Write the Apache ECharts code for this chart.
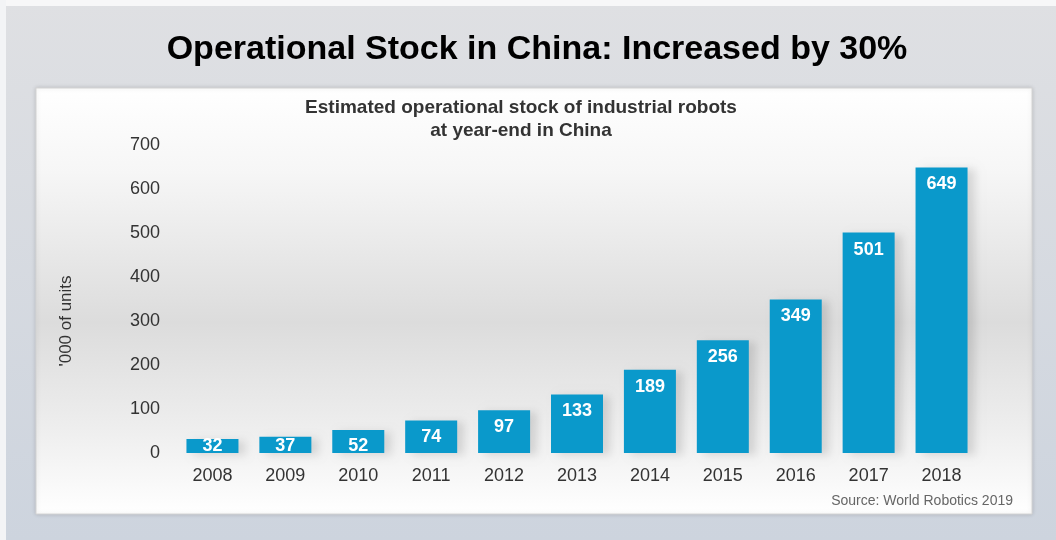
<!DOCTYPE html>
<html style="height: 100%">
<head>
<meta charset="utf-8">
<script src="https://cdn.jsdelivr.net/npm/echarts@6/dist/echarts.min.js"></script>
</head>
<body style="height: 100%; margin: 0">
<div id="container" style="width: 1056px; height: 540px"></div>
<script type="text/javascript">
var years = ['2008', '2009', '2010', '2011', '2012', '2013', '2014', '2015', '2016', '2017', '2018'];
var stock = [32, 37, 52, 74, 97, 133, 189, 256, 349, 501, 649];

var myChart = echarts.init(document.getElementById('container'));

// small bars: value label sits at the bottom of the bar
var barData = stock.map(function (v) {
    if (v < 60) {
        return {value: v, label: {position: 'insideBottom', distance: -2}};
    }
    return v;
});

var option = {
    backgroundColor: {
        type: 'linear', x: 0, y: 0, x2: 0, y2: 1,
        colorStops: [{offset: 0, color: '#dfe0e3'}, {offset: 1, color: '#cdd4de'}]
    },
    graphic: [
        // thin white strip at top and left, like the screenshot
        {type: 'rect', shape: {x: 0, y: 0, width: 1056, height: 6}, style: {fill: '#f7f7f8'}, z: -10},
        {type: 'rect', shape: {x: 0, y: 0, width: 6, height: 540}, style: {fill: '#f3f4f6'}, z: -10},
        // white panel with grey band
        {
            type: 'rect', z: -5,
            shape: {x: 36, y: 88, width: 996, height: 426},
            style: {
                fill: {
                    type: 'linear', x: 0, y: 0, x2: 0, y2: 1,
                    colorStops: [
                        {offset: 0, color: '#ffffff'},
                        {offset: 0.2, color: '#f6f6f6'},
                        {offset: 0.55, color: '#dcdcdc'},
                        {offset: 0.8, color: '#eeeeee'},
                        {offset: 1, color: '#ffffff'}
                    ]
                },
                stroke: '#d4d4d4', lineWidth: 1,
                shadowBlur: 4, shadowColor: 'rgba(0,0,0,0.15)'
            }
        },
        {
            type: 'text', x: 537, y: 33,
            style: {text: 'Operational Stock in China: Increased by 30%', font: 'bold 34px Arial, "Liberation Sans"', fill: '#000', align: 'center'}
        },
        {
            type: 'text', x: 521, y: 96,
            style: {
                text: 'Estimated operational stock of industrial robots\nat year-end in China',
                font: 'bold 19px Arial, "Liberation Sans"', fill: '#333', align: 'center', lineHeight: 23
            }
        },
        {
            type: 'text', x: 1013, y: 494,
            style: {text: 'Source: World Robotics 2019', font: '14px Arial, "Liberation Sans"', fill: '#666', align: 'right'}
        },
        {
            type: 'text', x: 66, y: 321, rotation: Math.PI / 2,
            style: {text: "'000 of units", font: '17px Arial, "Liberation Sans"', fill: '#333', align: 'center', verticalAlign: 'middle'}
        }
    ],
    grid: {left: 176, right: 78, top: 145, bottom: 87},
    xAxis: {
        type: 'category',
        data: years,
        axisLine: {show: false},
        axisTick: {show: false},
        axisLabel: {color: '#333', fontSize: 18, fontFamily: 'Arial', margin: 14}
    },
    yAxis: {
        type: 'value',
        min: 0, max: 700, interval: 100,
        splitLine: {show: false},
        axisLine: {show: false},
        axisTick: {show: false},
        axisLabel: {color: '#333', fontSize: 18, fontFamily: 'Arial', margin: 16}
    },
    series: [{
        type: 'bar',
        data: barData,
        barWidth: 52,
        itemStyle: {
            color: '#0a99cb',
            shadowColor: 'rgba(0,0,0,0.12)', shadowBlur: 8, shadowOffsetX: 7, shadowOffsetY: 2
        },
        label: {
            show: true,
            position: 'insideTop',
            distance: 8,
            color: '#fff',
            fontWeight: 'bold',
            fontSize: 18,
            fontFamily: 'Arial'
        }
    }]
};

myChart.setOption(option);
</script>
</body>
</html>
